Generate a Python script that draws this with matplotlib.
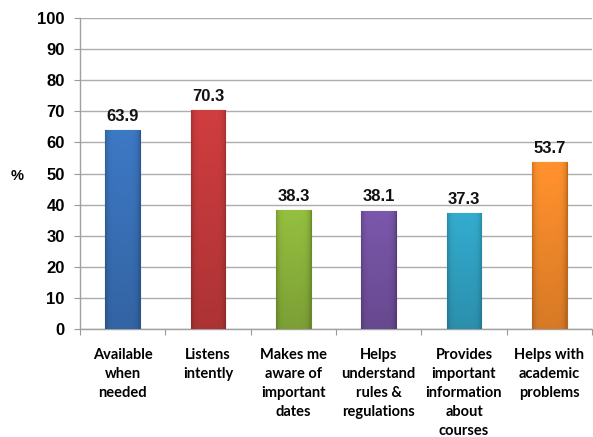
import matplotlib
matplotlib.use("Agg")
import matplotlib.pyplot as plt
import numpy as np

categories = ["Available\nwhen\nneeded", "Listens\nintently", "Makes me\naware of\nimportant\ndates",
              "Helps\nunderstand\nrules &\nregulations", "Provides\nimportant\ninformation\nabout\ncourses",
              "Helps with\nacademic\nproblems"]
values = [63.9, 70.3, 38.3, 38.1, 37.3, 53.7]
colors = ["#3a72ba", "#c43a3c", "#8db53c", "#7553a3", "#31a3c4", "#f48a2b"]
edges = ["#2a5590", "#8e2a2b", "#6a8a2a", "#55397e", "#227a93", "#c0661a"]
yticks = [0, 10, 20, 30, 40, 50, 60, 70, 80, 90, 100]

fig = plt.figure(figsize=(5.93, 4.37), dpi=100)
ax = fig.add_axes([80/593, 1-329/437, 512/593, (329-18)/437])

x = np.arange(len(categories))
bars = ax.bar(x, values, width=0.41, color=colors, edgecolor=edges, linewidth=0.8, zorder=3)

# subtle shading on bars (lighter top, darker bottom and sides)
for b, c in zip(bars, colors):
    rgb = np.array(matplotlib.colors.to_rgb(c))
    ny, nx = 80, 40
    ty = np.linspace(0, 1, ny)[:, None]   # 0 = top
    tx = np.linspace(0, 1, nx)[None, :]
    vert = 1.06 - 0.18 * ty
    side = 1.0 - 0.18 * (np.abs(tx - 0.5) * 2) ** 6
    shade = vert * side
    img = np.clip(rgb[None, None, :] * shade[:, :, None], 0, 1)
    x0, y0 = b.get_x(), b.get_y()
    w, h = b.get_width(), b.get_height()
    im = ax.imshow(img, extent=[x0, x0 + w, y0, y0 + h], aspect='auto', zorder=4,
                   origin='upper')
    im.set_clip_path(b)

for xi, v in zip(x, values):
    ax.text(xi, v + 2.0, f"{v:.1f}", ha='center', va='bottom', fontsize=12,
            fontweight='bold', family='Liberation Sans', color='#111111', zorder=5)

ax.set_xlim(-0.5, len(categories) - 0.5)
ax.set_ylim(0, 100)
ax.set_yticks(yticks)
ax.set_yticklabels([str(t) for t in yticks], fontsize=12, fontweight='bold', family='Liberation Sans')
ax.grid(axis='y', color='#adadad', linewidth=1, zorder=0)
ax.set_axisbelow(True)

ax.set_xticks(np.arange(len(categories) + 1) - 0.5, minor=False)
ax.set_xticklabels([])
ax.set_xticks(x, minor=True)
ax.set_xticklabels(categories, minor=True, fontsize=10.5, fontweight='bold', family='Lato',
                   linespacing=1.45, va='top')
ax.tick_params(axis='x', which='minor', length=0, pad=14)
ax.tick_params(axis='x', which='major', length=4, color='#999999', direction='out')
ax.tick_params(axis='y', length=4, color='#999999', pad=7)

for s in ['top', 'right']:
    ax.spines[s].set_visible(False)
for s in ['left', 'bottom']:
    ax.spines[s].set_color('#a0a0a0')
    ax.spines[s].set_linewidth(1)

fig.text(17/593, 1-176/437, "%", fontsize=10.5, fontweight='bold', family='Liberation Sans',
         ha='center', va='center')

fig.savefig("out.png", dpi=100)
